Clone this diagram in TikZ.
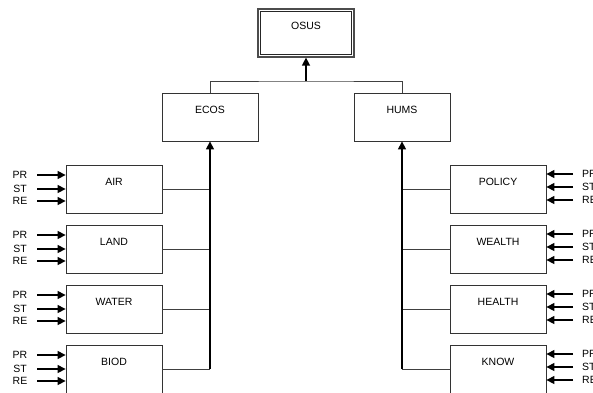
\documentclass[tikz,border=0pt]{standalone}
\usepackage{fontspec}
\setmainfont{Liberation Sans}
\usetikzlibrary{arrows.meta}
\begin{document}
\begin{tikzpicture}[x=1pt,y=-1pt,
  font=\fontsize{10.5}{12}\selectfont,
  box/.style={draw=black!80, line width=0.8pt, minimum width=96pt, minimum height=48pt,
    inner sep=0pt, text height=7pt, text depth=14pt},
  link/.style={draw=black!75, line width=0.8pt},
  arr/.style={draw=black, line width=1.3pt, -{Triangle[length=8pt,width=8pt]}},
  inlab/.style={inner sep=0pt, text height=7pt, text depth=0pt}]
\useasboundingbox (0,0) rectangle (593,392);
% top
\node[box, line width=1.2pt, draw=black!70] (osus) at (306,33) {OSUS};
\draw[draw=black!85, line width=0.8pt] ([shift={(3,3)}]osus.north west) rectangle ([shift={(-3,-3)}]osus.south east);
\node[box] (ecos) at (210,117) {ECOS};
\node[box] (hums) at (402,117) {HUMS};
\coordinate (j) at (306,81);
\draw[link] (ecos.north) |- (j) -| (hums.north);
\draw[arr] (j) -- (osus.south);
% left boxes
\foreach \n/\t/\y in {air/AIR/189, land/LAND/249, water/WATER/309, biod/BIOD/369}{
  \node[box] (\n) at (114,\y) {\t};
  \draw[link] (\n.east) -- (\n.east -| ecos.south);
  \node[inlab] (\n-pr) at (20,\y-14) {PR};
  \node[inlab] (\n-st) at (20,\y) {ST};
  \node[inlab] (\n-re) at (20,\y+12) {RE};
  \foreach \k in {pr,st,re}{
    \draw[arr] ([xshift=10pt]\n-pr.east |- \n-\k) -- (\n-\k -| \n.west);
  }
}
\draw[arr] (biod.east -| ecos.south) -- (ecos.south);
% right boxes
\foreach \n/\t/\y in {policy/POLICY/189, wealth/WEALTH/249, health/HEALTH/309, know/KNOW/369}{
  \node[box] (\n) at (498,\y) {\t};
  \draw[link] (\n.west) -- (\n.west -| hums.south);
  \node[inlab, anchor=west] (\n-pr) at (582,\y-15) {PR};
  \node[inlab, anchor=west] (\n-st) at (582,\y-2) {ST};
  \node[inlab, anchor=west] (\n-re) at (582,\y+11) {RE};
  \foreach \k in {pr,st,re}{
    \draw[arr] ([xshift=-9pt]\n-\k.west) -- (\n-\k -| \n.east);
  }
}
\draw[arr] (know.west -| hums.south) -- (hums.south);
\end{tikzpicture}
\end{document}
